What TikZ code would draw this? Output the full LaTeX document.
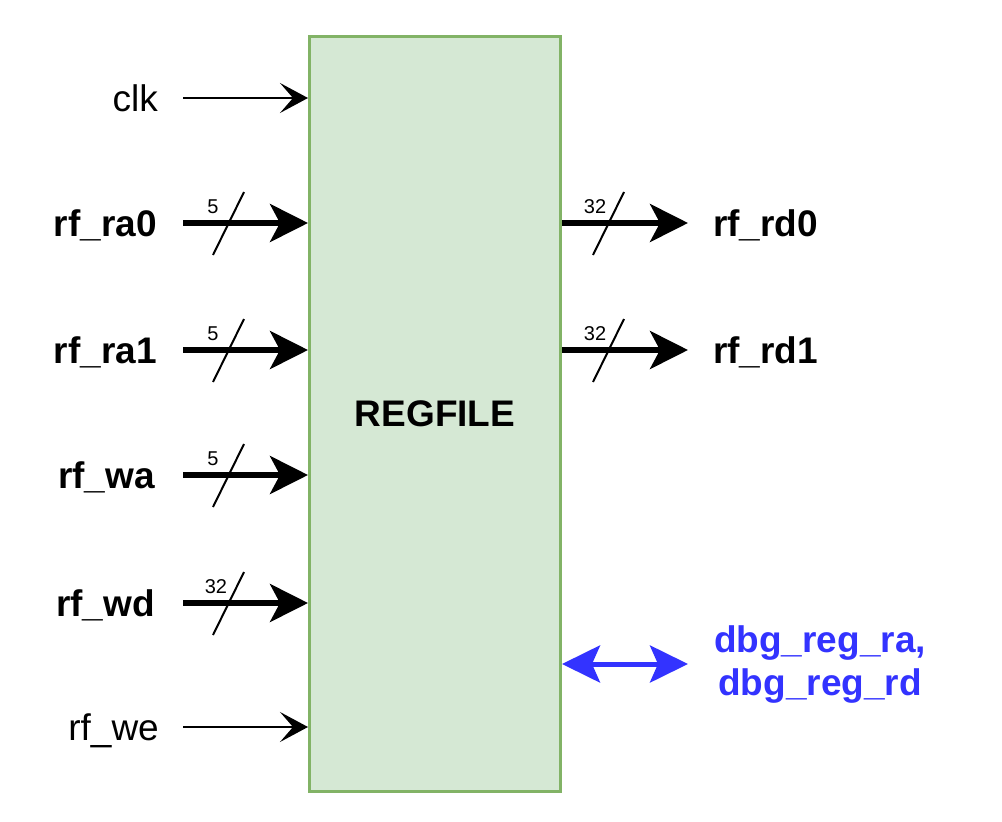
\documentclass[tikz,border=0pt]{standalone}
\usepackage{fontspec}
\setmainfont{Liberation Sans}
\usetikzlibrary{arrows.meta}
\definecolor{boxfill}{HTML}{D5E8D4}
\definecolor{boxline}{HTML}{82B366}
\definecolor{dbgblue}{HTML}{3333FF}
\begin{document}
\begin{tikzpicture}[x=1pt,y=-1pt,
  lbl/.style={font=\fontsize{37}{43}\selectfont, inner sep=0},
  blbl/.style={font=\fontsize{37}{43}\selectfont\bfseries, inner sep=0},
  wlbl/.style={font=\fontsize{20}{24}\selectfont, inner sep=0},
  bus/.style={line width=5.5pt, -{Stealth[length=38pt,width=38pt,inset=10pt]}},
  sig/.style={line width=2pt, -{Stealth[length=28pt,width=30pt,inset=13pt]}},
  slashline/.style={line width=2pt},
  dbgarrow/.style={line width=5pt, dbgblue, {Stealth[length=38pt,width=37pt,inset=8pt]}-{Stealth[length=38pt,width=37pt,inset=8pt]}},
]
\useasboundingbox (0,0) rectangle (1002,822);
\node[draw=boxline, fill=boxfill, line width=3pt, minimum width=251pt, minimum height=755pt, inner sep=0,
      font=\fontsize{37}{43}\selectfont\bfseries] (rf) at (435,413.5) {REGFILE};

% input labels
\node[lbl, anchor=base east]  (clk) at (158,111) {clk};
\node[blbl, anchor=base east] (ra0) at (157,236) {rf\_ra0};
\node[blbl, anchor=base east] (ra1) at (157,363) {rf\_ra1};
\node[blbl, anchor=base east] (wa)  at (155,488) {rf\_wa};
\node[blbl, anchor=base east] (wd)  at (155,616) {rf\_wd};
\node[lbl, anchor=base east]  (we)  at (159,740) {rf\_we};

% start points
\coordinate (clkS) at (183,98);
\coordinate (ra0S) at (183,223);
\coordinate (ra1S) at (183,350);
\coordinate (waS)  at (183,475);
\coordinate (wdS)  at (183,603);
\coordinate (weS)  at (183,727);

\draw[sig] (clkS) -- (clkS -| rf.west);
\draw[bus] (ra0S) -- (ra0S -| rf.west);
\draw[bus] (ra1S) -- (ra1S -| rf.west);
\draw[bus] (waS)  -- (waS -| rf.west);
\draw[bus] (wdS)  -- (wdS -| rf.west);
\draw[sig] (weS)  -- (weS -| rf.west);

% input bus slashes and widths
\foreach \y in {223,350,475,603}{
  \draw[slashline] (213,\y+32) -- (244,\y-31);
}
\node[wlbl] (w0) at (213,207) {5};
\node[wlbl] (w1) at (213,334) {5};
\node[wlbl] (w2) at (213,459) {5};
\node[wlbl] (w3) at (216,587) {32};

% outputs
\coordinate (rd0E) at (688,223);
\coordinate (rd1E) at (688,350);
\draw[bus] (rd0E -| rf.east) -- (rd0E);
\draw[bus] (rd1E -| rf.east) -- (rd1E);
\foreach \y in {223,350}{
  \draw[slashline] (593,\y+32) -- (624,\y-31);
}
\node[wlbl] (w4) at (595,207) {32};
\node[wlbl] (w5) at (595,334) {32};
\node[blbl, anchor=base west] (rd0) at (713,236) {rf\_rd0};
\node[blbl, anchor=base west] (rd1) at (713,363) {rf\_rd1};

% debug
\coordinate (dbgE) at (688,664);
\draw[dbgarrow] (dbgE -| rf.east) -- (dbgE);
\node[blbl, text=dbgblue, align=center, anchor=base] (dbg1) at (820,652) {dbg\_reg\_ra,};
\node[blbl, text=dbgblue, align=center, anchor=base] (dbg2) at (820,695) {dbg\_reg\_rd};
\end{tikzpicture}
\end{document}
